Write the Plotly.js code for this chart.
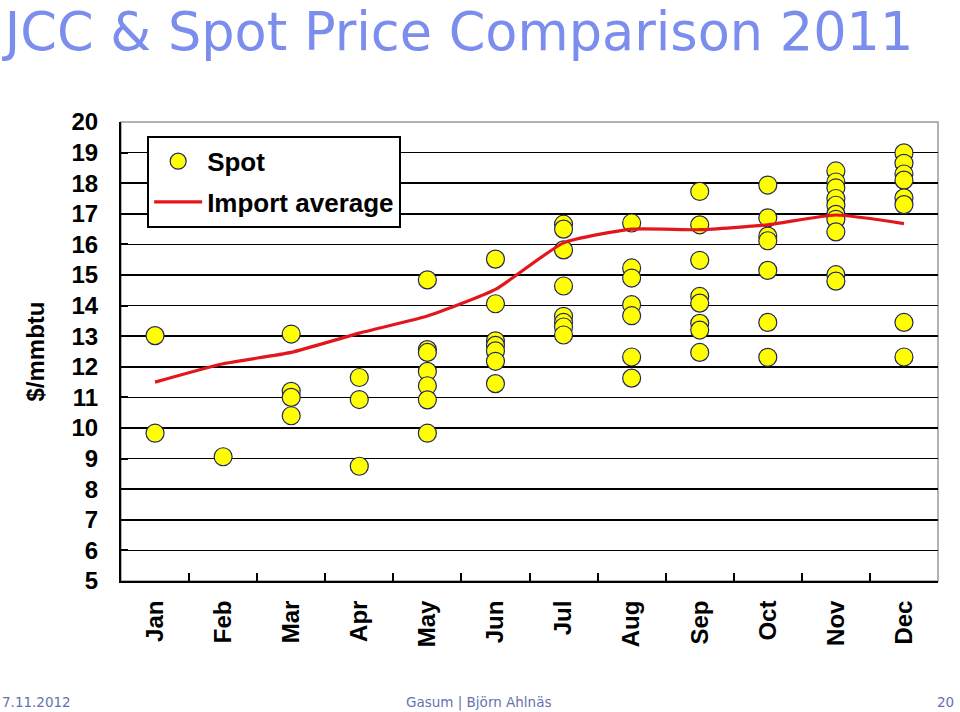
<!DOCTYPE html>
<html>
<head>
<meta charset="utf-8">
<script src="https://cdn.plot.ly/plotly-3.0.1.min.js"></script>
<style>
  html, body { margin: 0; padding: 0; background: #ffffff; }
  #chart { width: 960px; height: 712px; }
</style>
</head>
<body>
<div id="chart"></div>
<script>
// ---- data ----
const months = ["Jan","Feb","Mar","Apr","May","Jun","Jul","Aug","Sep","Oct","Nov","Dec"];
const importAverage = [11.5, 12.1, 12.47, 13.1, 13.66, 14.53, 16.05, 16.5, 16.48, 16.64, 16.96, 16.68];

const spotJan = [13.02, 9.83];
const spotFeb = [9.06];
const spotMar = [13.07, 11.2, 11.0, 10.4];
const spotApr = [11.65, 10.93, 8.75];
const spotMay = [14.84, 12.56, 12.47, 11.85, 11.38, 10.92, 9.83];
const spotJun = [15.52, 14.06, 12.85, 12.7, 12.52, 12.18, 11.45];
const spotJul = [16.66, 16.5, 15.82, 14.64, 13.65, 13.45, 13.3, 13.04];
const spotAug = [16.7, 15.23, 14.9, 14.03, 13.67, 12.32, 11.63];
const spotSep = [17.73, 16.64, 15.48, 14.3, 14.08, 13.42, 13.2, 12.47];
const spotOct = [17.94, 16.87, 16.27, 16.12, 15.15, 13.45, 12.31];
const spotNov = [18.4, 18.04, 17.85, 17.5, 17.28, 16.98, 16.82, 16.41, 15.01, 14.8];
const spotDec = [18.99, 18.65, 18.3, 18.1, 17.52, 17.3, 13.45, 12.32];

const yTicks = [5,6,7,8,9,10,11,12,13,14,15,16,17,18,19,20];

const spotSets = [spotJan, spotFeb, spotMar, spotApr, spotMay, spotJun,
                  spotJul, spotAug, spotSep, spotOct, spotNov, spotDec];
const spotX = [], spotY = [];
spotSets.forEach((vals, i) => vals.forEach(v => { spotX.push(months[i]); spotY.push(v); }));

const traces = [
  {
    type: "scatter", mode: "markers", name: "Spot", legendgroup: "a",
    x: spotX, y: spotY,
    marker: { color: "#ffff00", size: 18, line: { color: "#22275a", width: 1.2 } },
    cliponaxis: false
  },
  {
    type: "scatter", mode: "lines", name: "Import average", legendgroup: "b",
    x: months, y: importAverage,
    line: { color: "#e3161c", width: 3.2, shape: "spline", smoothing: 0.5 }
  }
];

const layout = {
  width: 960, height: 712,
  margin: { l: 121, r: 22, t: 122, b: 131 },
  paper_bgcolor: "#ffffff", plot_bgcolor: "#ffffff",
  showlegend: true,
  font: { family: "Liberation Sans, Arial, sans-serif", color: "#000" },
  title: {
    text: "JCC & Spot Price Comparison 2011",
    font: { family: "DejaVu Sans, Verdana, sans-serif", size: 52.5, color: "#7b8ded" },
    xref: "container", yref: "container",
    x: 0.005, xanchor: "left", y: 0.955, yanchor: "middle"
  },
  xaxis: {
    type: "category", categoryorder: "array", categoryarray: months,
    range: [-0.5, 11.5],
    showgrid: false, zeroline: false,
    showline: true, linecolor: "#000", linewidth: 2,
    ticks: "inside", tickson: "boundaries", ticklen: 8, tickwidth: 2, tickcolor: "#000",
    tickangle: -90, ticklabelstandoff: 8,
    tickfont: { family: "Liberation Sans, Arial, sans-serif", size: 24, color: "#000", weight: "bold" },
    fixedrange: true
  },
  yaxis: {
    range: [5, 20], tickvals: yTicks, ticktext: yTicks.map(String),
    showgrid: true, gridcolor: "#000", gridwidth: 1.6,
    zeroline: false,
    showline: true, linecolor: "#000", linewidth: 2,
    ticks: "inside", ticklen: 7, tickwidth: 2, tickcolor: "#000",
    ticklabelstandoff: 16,
    tickfont: { family: "Liberation Sans, Arial, sans-serif", size: 24, color: "#000", weight: "bold" },
    title: {
      text: "$/mmbtu", standoff: 20,
      font: { family: "Liberation Sans, Arial, sans-serif", size: 24, color: "#000", weight: "bold" }
    },
    fixedrange: true
  },
  legend: {
    x: 0.032, y: 0.97, xanchor: "left", yanchor: "top",
    bgcolor: "#ffffff", bordercolor: "#000", borderwidth: 2,
    font: { family: "Liberation Sans, Arial, sans-serif", size: 26, color: "#000", weight: "bold" },
    itemwidth: 48, tracegroupgap: 4
  },
  shapes: [
    { type: "rect", xref: "paper", yref: "paper", x0: 0, x1: 1, y0: 0, y1: 1,
      line: { color: "#9a9a9a", width: 1.5 }, layer: "below" }
  ],
  annotations: [
    { text: "7.11.2012", xref: "paper", yref: "paper", x: -121/817, y: -121/459,
      xanchor: "left", yanchor: "middle", showarrow: false,
      font: { family: "DejaVu Sans, Verdana, sans-serif", size: 13.5, color: "#6672b0" } },
    { text: "Gasum | Björn Ahlnäs", xref: "paper", yref: "paper", x: (478-121)/817, y: -121/459,
      xanchor: "center", yanchor: "middle", showarrow: false,
      font: { family: "DejaVu Sans, Verdana, sans-serif", size: 13.5, color: "#6672b0" } },
    { text: "20", xref: "paper", yref: "paper", x: (956-121)/817, y: -121/459,
      xanchor: "right", yanchor: "middle", showarrow: false,
      font: { family: "DejaVu Sans, Verdana, sans-serif", size: 13.5, color: "#6672b0" } }
  ]
};

Plotly.newPlot("chart", traces, layout, { displayModeBar: false, staticPlot: true });
</script>
</body>
</html>
